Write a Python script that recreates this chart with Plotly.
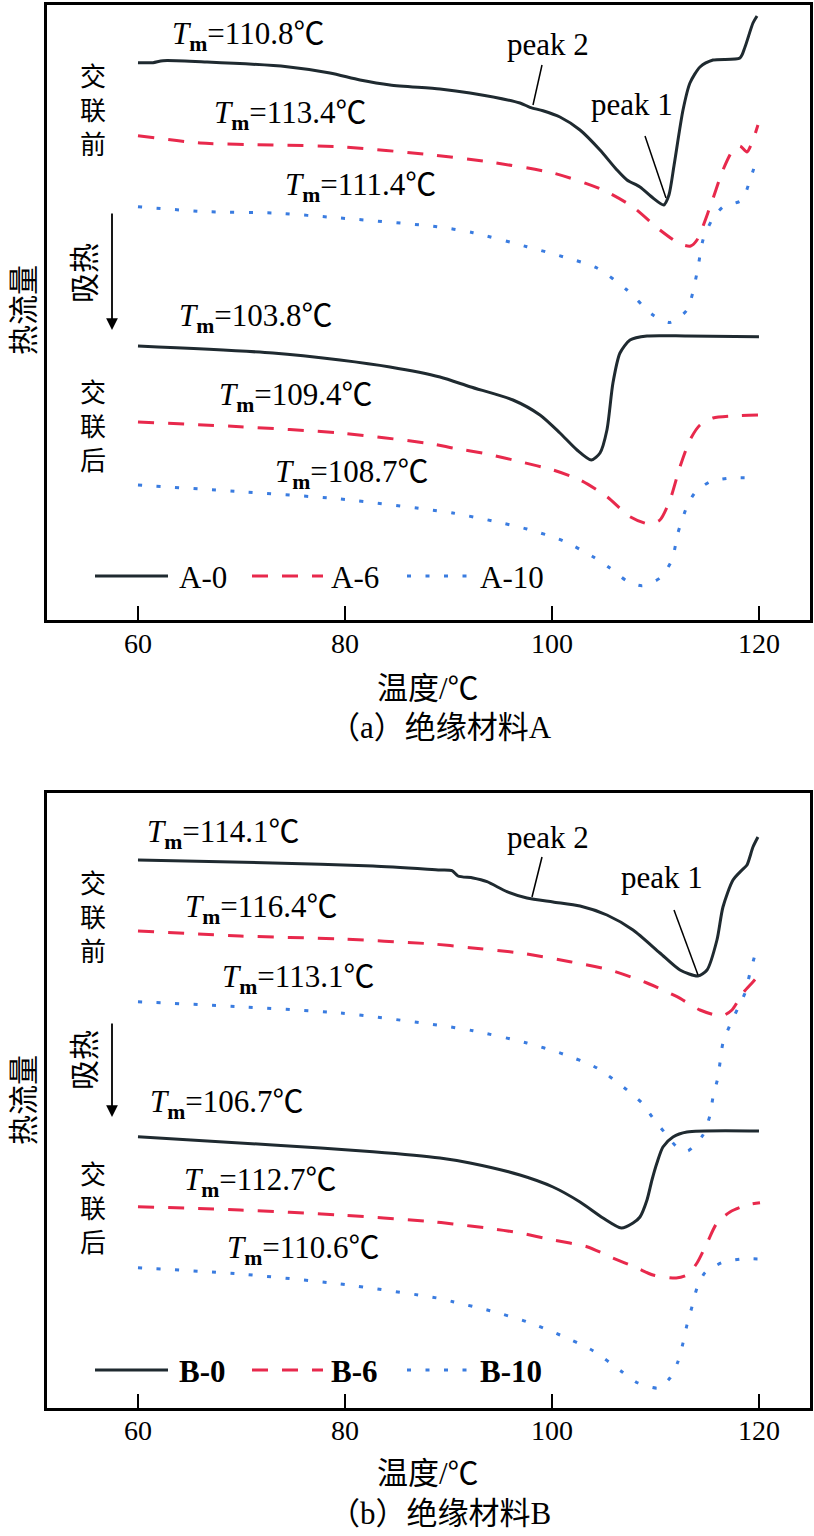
import plotly.graph_objects as go

W, H = 814, 1536

# ---------------- data (temperature in degC, heat flow in arbitrary units) ----------------
# Panel (a) insulation material A
a0_pre_T = [60.0, 61.45, 62.42, 66.67, 74.40, 78.55, 81.45, 84.35, 89.18, 92.08, 96.91, 97.87, 99.13,
            100.77, 102.71, 104.64, 106.28, 107.25, 108.50, 109.76, 110.8, 111.3, 111.8, 112.66, 113.33,
            114.30, 115.56, 118.16, 118.65, 119.42, 119.81]
a0_pre_hf = [557.3, 557.3, 559.3, 558.0, 553.3, 547.0, 540.0, 535.0, 531.0, 527.0, 517.0, 512.7, 509.3,
             503.0, 490.0, 470.0, 450.0, 440.0, 433.0, 422.0, 415.0, 425.0, 455.0, 510.0, 537.0,
             553.0, 560.0, 562.0, 573.0, 597.0, 604.0]
a6_pre_T = [60.0, 65.99, 73.04, 79.52, 88.50, 93.72, 100.10, 104.93, 107.83, 110.43, 112.37, 113.4,
            114.01, 115.27, 116.52, 117.49, 118.16, 118.84, 119.42, 119.90]
a6_pre_hf = [484.3, 477.0, 475.0, 473.3, 465.0, 458.3, 447.0, 430.0, 413.0, 390.0, 376.0, 374.0,
             380.0, 413.0, 450.0, 470.0, 474.0, 468.0, 480.0, 495.0]
a10_pre_T = [60.0, 66.67, 73.04, 79.52, 88.89, 92.37, 97.58, 101.06, 104.35, 107.25, 109.76, 111.4,
             113.04, 114.01, 114.59, 115.46, 116.52, 118.36, 119.13, 119.61]
a10_pre_hf = [413.3, 408.3, 407.0, 402.0, 393.3, 387.3, 373.3, 363.3, 352.0, 330.0, 305.0, 297.5,
              310.0, 347.0, 380.0, 400.0, 413.0, 420.0, 440.0, 455.0]
a0_post_T = [60.0, 73.04, 79.52, 84.35, 89.18, 92.08, 96.23, 98.84, 100.77, 102.42, 103.8, 104.64,
             105.31, 105.89, 106.57, 107.54, 109.18, 113.04, 120.0]
a0_post_hf = [274.0, 267.0, 260.0, 253.0, 243.0, 233.3, 220.0, 205.0, 187.0, 170.0, 160.0, 167.0,
              190.0, 237.0, 267.0, 280.0, 284.0, 284.0, 283.3]
a6_post_T = [60.0, 69.86, 79.52, 88.50, 90.43, 93.72, 96.91, 100.10, 102.71, 105.31, 107.54, 109.4,
             110.43, 111.40, 112.37, 113.33, 114.30, 115.56, 117.87, 120.0]
a6_post_hf = [198.0, 193.3, 187.0, 176.0, 172.0, 166.0, 158.3, 150.0, 140.0, 123.3, 103.3, 96.0,
              100.0, 120.0, 153.3, 180.0, 195.0, 202.0, 204.3, 205.0]
a10_post_T = [60.0, 69.86, 79.52, 88.89, 90.43, 94.30, 97.58, 101.06, 103.96, 105.60, 107.25, 108.7,
              110.43, 111.59, 112.17, 113.04, 113.82, 115.27, 117.20, 118.94]
a10_post_hf = [135.0, 128.3, 121.0, 109.3, 107.0, 99.0, 91.0, 79.3, 63.3, 52.0, 39.0, 34.3,
               42.0, 60.0, 87.0, 113.3, 127.3, 138.3, 142.0, 142.3]

# Panel (b) insulation material B
b0_pre_T = [60.0, 73.04, 82.71, 89.18, 90.34, 90.92, 92.37, 93.72, 95.65, 97.58, 100.10, 102.71,
            105.31, 107.83, 110.43, 112.37, 114.1, 114.98, 115.94, 116.52, 117.49, 118.36, 118.84,
            119.42, 119.90]
b0_pre_hf = [548.0, 545.0, 542.0, 538.0, 537.3, 532.0, 530.0, 526.3, 516.3, 510.0, 506.0, 502.0,
             493.0, 478.0, 455.0, 438.0, 432.0, 438.0, 468.0, 501.0, 528.0, 538.0, 543.0,
             561.0, 571.0]
b6_pre_T = [60.0, 69.86, 79.52, 88.50, 92.08, 96.91, 101.74, 105.60, 109.18, 112.08, 114.30, 116.4,
            117.39, 118.45, 119.81, 120.1]
b6_pre_hf = [477.0, 472.0, 469.0, 464.0, 460.3, 455.0, 446.3, 438.0, 425.0, 411.3, 398.0, 392.0,
             398.0, 415.0, 431.0, 439.0]
b10_pre_T = [60.0, 69.86, 79.52, 88.89, 92.37, 97.58, 101.06, 104.35, 107.25, 108.70, 109.76, 110.92,
             112.08, 113.1, 114.59, 115.27, 115.56, 116.04, 116.52, 117.20, 117.97, 118.65, 119.13,
             119.61]
b10_pre_hf = [406.3, 401.3, 395.0, 383.0, 377.3, 365.0, 354.0, 340.0, 318.0, 305.0, 290.0, 275.0,
              261.0, 257.0, 273.0, 293.0, 311.0, 331.0, 365.0, 383.0, 400.0, 415.0, 435.0,
              453.0]
b0_post_T = [60.0, 73.04, 82.71, 89.18, 92.08, 96.91, 100.10, 102.71, 104.93, 106.7, 107.83, 108.50,
             109.18, 109.66, 110.14, 110.72, 111.69, 113.04, 120.0]
b0_post_hf = [271.3, 263.0, 256.3, 250.0, 245.0, 233.0, 221.0, 206.0, 190.0, 180.0, 185.0, 191.0,
              208.0, 228.0, 245.0, 261.0, 271.0, 276.0, 277.0]
b6_post_T = [60.0, 69.86, 79.52, 88.50, 90.43, 93.72, 96.91, 100.10, 103.38, 105.89, 108.21, 109.76,
             112.0, 113.04, 114.01, 114.98, 115.94, 117.20, 118.84, 120.1]
b6_post_hf = [201.3, 198.0, 193.0, 186.3, 184.0, 180.0, 175.0, 168.0, 161.3, 150.0, 140.0, 133.0,
              130.0, 133.0, 145.0, 165.0, 185.0, 196.0, 203.0, 205.3]
b10_post_T = [60.0, 69.86, 79.52, 88.89, 90.43, 94.01, 97.58, 100.77, 103.96, 106.76, 108.31, 110.3,
              111.40, 112.17, 112.66, 113.04, 113.53, 114.01, 114.78, 116.42, 118.36, 120.0]
b10_post_hf = [140.3, 134.0, 124.0, 110.0, 106.3, 97.3, 86.3, 73.0, 57.3, 36.3, 25.0, 20.0,
               30.0, 46.3, 65.0, 83.0, 101.3, 120.0, 135.3, 145.3, 149.0, 149.0]

series_a = [("A-0", a0_pre_T, a0_pre_hf, 0), ("A-6", a6_pre_T, a6_pre_hf, 1), ("A-10", a10_pre_T, a10_pre_hf, 2),
            ("A-0", a0_post_T, a0_post_hf, 0), ("A-6", a6_post_T, a6_post_hf, 1), ("A-10", a10_post_T, a10_post_hf, 2)]
series_b = [("B-0", b0_pre_T, b0_pre_hf, 0), ("B-6", b6_pre_T, b6_pre_hf, 1), ("B-10", b10_pre_T, b10_pre_hf, 2),
            ("B-0", b0_post_T, b0_post_hf, 0), ("B-6", b6_post_T, b6_post_hf, 1), ("B-10", b10_post_T, b10_post_hf, 2)]

tm_a = ["110.8", "113.4", "111.4", "103.8", "109.4", "108.7"]
tm_b = ["114.1", "116.4", "113.1", "106.7", "112.7", "110.6"]
legend_a = ["A-0", "A-6", "A-10"]
legend_b = ["B-0", "B-6", "B-10"]
x_ticks = [60, 80, 100, 120]
x_tick_labels = ["60", "80", "100", "120"]

# ---------------- styles ----------------
COLORS = ["#1f2a30", "#e8294c", "#3a7ce0"]
DASHES = ["solid", "16px,14px", "4px,14.5px"]
SERIF = "Times New Roman, Liberation Serif, Noto Sans CJK SC, serif"
LATIN = "Times New Roman, Liberation Serif, serif"
CJK = "Noto Sans CJK SC"


def xp(px):
    return px / W


def yp(py):
    return 1 - py / H


fig = go.Figure()

for name, T, hf, k in series_a:
    fig.add_trace(go.Scatter(x=T, y=hf, mode="lines", name=name, showlegend=False,
                             line=dict(color=COLORS[k], width=3, dash=DASHES[k], shape="spline", smoothing=0.7),
                             xaxis="x", yaxis="y"))
for name, T, hf, k in series_b:
    fig.add_trace(go.Scatter(x=T, y=hf, mode="lines", name=name, showlegend=False,
                             line=dict(color=COLORS[k], width=3, dash=DASHES[k], shape="spline", smoothing=0.7),
                             xaxis="x2", yaxis="y2"))

xr = [51.21, 124.93]
common_x = dict(range=xr, tickvals=x_ticks, ticktext=x_tick_labels, ticks="inside", ticklen=14, tickwidth=2,
                tickcolor="black", showticklabels=False,
                showline=True, linewidth=2.5, linecolor="black", mirror=True, showgrid=False, zeroline=False,
                domain=[xp(47), xp(810)])
common_y = dict(range=[0, 615], showticklabels=False, ticks="", showline=True, linewidth=2.5,
                linecolor="black", mirror=True, showgrid=False, zeroline=False)

fig.update_layout(
    width=W, height=H, margin=dict(l=0, r=0, t=0, b=0),
    paper_bgcolor="white", plot_bgcolor="white",
    xaxis=dict(**common_x, anchor="y"),
    yaxis=dict(**common_y, domain=[yp(620), yp(5)], anchor="x"),
    xaxis2=dict(**common_x, anchor="y2"),
    yaxis2=dict(**common_y, domain=[yp(1408), yp(793)], anchor="x2"),
)

ann = []
shapes = []


def text(px, py, s, size=30, family=SERIF, xanchor="center", angle=0):
    ann.append(dict(x=xp(px), y=yp(py), xref="paper", yref="paper", text=s, showarrow=False,
                    xanchor=xanchor, yanchor="middle", textangle=angle,
                    font=dict(family=family, size=size, color="black")))


# tick labels placed on the data x-scale of each panel
for xref, ty in [("x", 643), ("x2", 1430)]:
    for v, lab in zip(x_ticks, x_tick_labels):
        ann.append(dict(x=v, y=yp(ty), xref=xref, yref="paper", text=lab, showarrow=False,
                        xanchor="center", yanchor="middle",
                        font=dict(family=LATIN, size=28, color="black")))


def tm_label(left, ymid, val):
    text(left, ymid + 4, "<i>T</i><sub><b>m</b></sub>=" + val + "℃", size=31, xanchor="left")


# Tm labels
for (lx, ly), v in zip([(170, 32), (212, 111), (283, 183), (177, 314), (217, 393), (273, 470)], tm_a):
    tm_label(lx, ly, v)
for (lx, ly), v in zip([(145, 830), (183, 905), (220, 975), (148, 1100), (182, 1178), (225, 1246)], tm_b):
    tm_label(lx, ly, v)

# peak labels + leader lines
for cx, cy, s in [(548, 44, "peak 2"), (632, 104, "peak 1"), (548, 837, "peak 2"), (662, 877, "peak 1")]:
    text(cx, cy, s, size=31, family=LATIN)
for x0, y0, x1, y1 in [(542, 65, 533, 105), (645, 136, 666, 198), (542, 857, 532, 897), (674, 910, 698, 975)]:
    shapes.append(dict(type="line", xref="paper", yref="paper", x0=xp(x0), y0=yp(y0), x1=xp(x1), y1=yp(y1),
                       line=dict(color="black", width=1.5)))

# side labels (stacked vertical text)
for chars, ymid in [("交联前", 108), ("交联后", 425), ("交联前", 915), ("交联后", 1206)]:
    text(93, ymid, "<br>".join(chars), size=26, family=CJK)
text(82, 273, "吸热", size=30, family=CJK, angle=-90)
text(82, 1060, "吸热", size=30, family=CJK, angle=-90)
text(21, 310, "热流量", size=30, family=CJK, angle=-90)
text(21, 1100, "热流量", size=30, family=CJK, angle=-90)

# endothermic arrows
for ytop, ytip in [(212, 330), (1022, 1117)]:
    ann.append(dict(x=xp(112), y=yp(ytip), xref="paper", yref="paper", ax=0, ay=-(ytip - ytop),
                    axref="pixel", ayref="pixel", text="", showarrow=True, arrowhead=2, arrowsize=1.3,
                    arrowwidth=1.8, arrowcolor="black"))

# axis titles and captions
text(428, 688, "温度/℃", size=31, family=SERIF)
text(440, 728, "（a）绝缘材料A", size=31, family=SERIF)
text(428, 1473, "温度/℃", size=31, family=SERIF)
text(440, 1513, "（b）绝缘材料B", size=31, family=SERIF)

# manual legends
for ly, labels, bold in [(576, legend_a, False), (1370, legend_b, True)]:
    for k, ((x0, x1), tx) in enumerate(zip([(95, 168), (252, 323), (407, 470)], [177, 329, 478])):
        shapes.append(dict(type="line", xref="paper", yref="paper", x0=xp(x0), y0=yp(ly), x1=xp(x1), y1=yp(ly),
                           line=dict(color=COLORS[k], width=3, dash=DASHES[k])))
        lab = "<b>" + labels[k] + "</b>" if bold else labels[k]
        text(tx, ly + 1, lab, size=31, family=LATIN, xanchor="left")

fig.update_layout(annotations=ann, shapes=shapes)
fig.write_html("out.html")
